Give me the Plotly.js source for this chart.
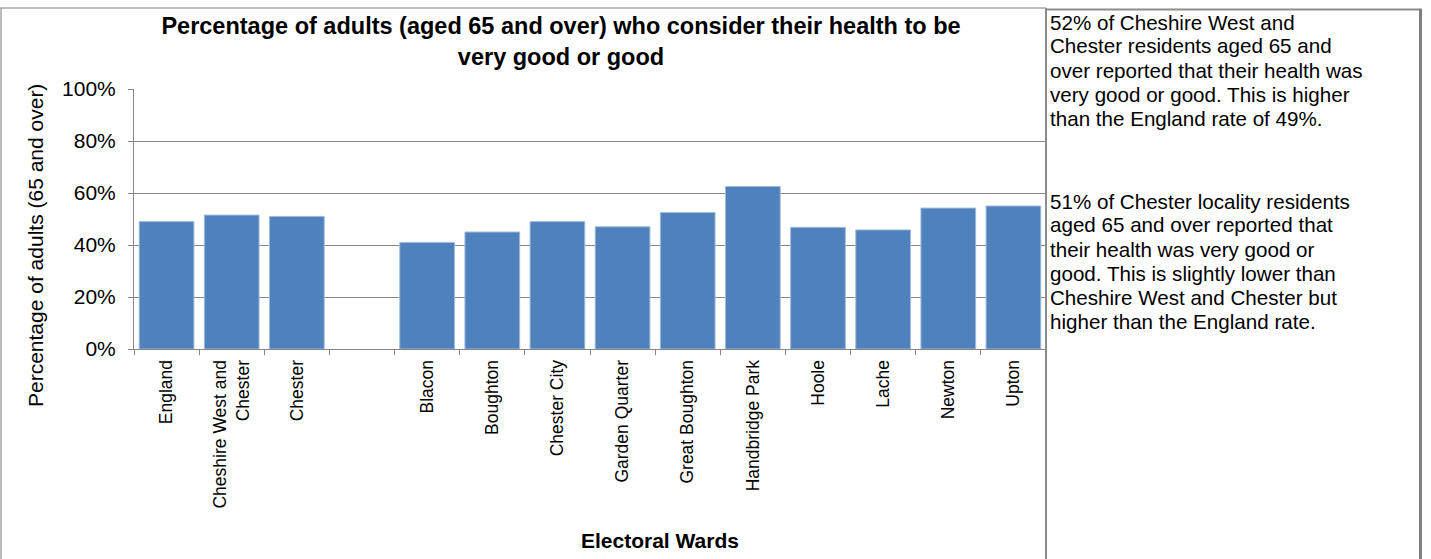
<!DOCTYPE html>
<html>
<head>
<meta charset="utf-8">
<script src="https://cdn.plot.ly/plotly-3.0.1.min.js"></script>
<style>
html,body{margin:0;padding:0;background:#fff;}
#chart{width:1431px;height:559px;}
</style>
</head>
<body>
<div id="chart"></div>
<script>
// ---- data ----
const categories = ['England', 'Cheshire West and<br>Chester', 'Chester', ' ', 'Blacon', 'Boughton', 'Chester City',
  'Garden Quarter', 'Great Boughton', 'Handbridge Park', 'Hoole', 'Lache', 'Newton', 'Upton'];
const values = [0.49, 0.515, 0.51, null, 0.41, 0.45, 0.49, 0.47, 0.525, 0.625, 0.468, 0.458, 0.542, 0.55];
const yTickValues = [0, 0.2, 0.4, 0.6, 0.8, 1.0];
const chartTitle = 'Percentage of adults (aged 65 and over) who consider their health to be<br>very good or good';
const yTitle = 'Percentage of adults (65 and over)';
const xTitle = 'Electoral Wards';
const panelParagraph1 = ['52% of Cheshire West and', 'Chester residents aged 65 and',
  'over reported that their health was', 'very good or good. This is higher', 'than the England rate of 49%.'];
const panelParagraph2 = ['51% of Chester locality residents', 'aged 65 and over reported that',
  'their health was very good or', 'good. This is slightly lower than', 'Cheshire West and Chester but',
  'higher than the England rate.'];

// ---- layout geometry (pixels) ----
const W = 1431, H = 559;
const PL = 134, PR = 1046, PT = 89, PB = 349;
const px2x = p => (p - PL) / (PR - PL);
const px2y = p => (PB - p) / (PB - PT);
const FONT = 'Liberation Sans, Arial, sans-serif';
const GRID = '#868686';

const shapes = [
  // chart outer frame
  {type: 'line', xref: 'paper', yref: 'paper', x0: px2x(1), x1: px2x(1), y0: px2y(8), y1: px2y(565), line: {color: '#a6a6a6', width: 1.5}},
  {type: 'line', xref: 'paper', yref: 'paper', x0: px2x(0), x1: px2x(1046), y0: px2y(8), y1: px2y(8), line: {color: '#a6a6a6', width: 1.5}},
  // text panel
  {type: 'line', xref: 'paper', yref: 'paper', x0: px2x(1046), x1: px2x(1046), y0: px2y(8), y1: px2y(565), line: {color: '#8c8c8c', width: 2}},
  {type: 'line', xref: 'paper', yref: 'paper', x0: px2x(1046), x1: px2x(1422), y0: px2y(9.5), y1: px2y(9.5), line: {color: '#8c8c8c', width: 2}},
  {type: 'line', xref: 'paper', yref: 'paper', x0: px2x(1420.5), x1: px2x(1420.5), y0: px2y(9), y1: px2y(565), line: {color: '#7f7f7f', width: 3}}
];

const annotations = [
  {text: yTitle, xref: 'paper', yref: 'paper', x: px2x(35), y: px2y(246), textangle: -90, showarrow: false,
   xanchor: 'center', yanchor: 'middle', font: {family: FONT, size: 21, color: '#000'}},
  {text: '<b>' + xTitle + '</b>', xref: 'paper', yref: 'paper', x: px2x(660), y: px2y(540), showarrow: false,
   xanchor: 'center', yanchor: 'middle', font: {family: FONT, size: 21, color: '#000'}}
];
const LINE = 24;
panelParagraph1.forEach((t, i) => annotations.push({text: t, xref: 'paper', yref: 'paper', x: px2x(1049), y: px2y(22 + i * LINE),
  showarrow: false, xanchor: 'left', yanchor: 'middle', borderpad: 0, font: {family: FONT, size: 20.6, color: '#000'}}));
panelParagraph2.forEach((t, i) => annotations.push({text: t, xref: 'paper', yref: 'paper', x: px2x(1049), y: px2y(201 + i * LINE),
  showarrow: false, xanchor: 'left', yanchor: 'middle', borderpad: 0, font: {family: FONT, size: 20.6, color: '#000'}}));

const trace = {
  type: 'bar', x: categories, y: values,
  marker: {color: '#4f81bd', line: {color: '#9fbbdd', width: 1}},
  hoverinfo: 'x+y'
};

const layout = {
  width: W, height: H,
  margin: {l: PL, r: W - PR, t: PT, b: H - PB, pad: 0},
  paper_bgcolor: '#fff', plot_bgcolor: '#fff',
  showlegend: false,
  bargap: 0.16,
  title: {text: '<b>' + chartTitle + '</b>', xref: 'paper', x: px2x(561), xanchor: 'center',
    yref: 'container', y: 1 - 34 / H, yanchor: 'top', font: {family: FONT, size: 23.5, color: '#000'}},
  xaxis: {type: 'category', categoryorder: 'array', categoryarray: categories, tickson: 'boundaries',
    ticks: 'outside', ticklen: 5, tickcolor: GRID, tickwidth: 1, showline: true, linecolor: GRID, linewidth: 1,
    tickangle: -90, tickfont: {family: FONT, size: 17.5, color: '#000'}, showgrid: false, fixedrange: true, ticklabelstandoff: 3},
  yaxis: {range: [0, 1], tickvals: yTickValues, tickformat: '.0%', showline: true, linecolor: GRID, linewidth: 1,
    ticks: 'outside', ticklen: 5, tickcolor: GRID, showgrid: true, gridcolor: GRID, gridwidth: 1, zeroline: false,
    tickfont: {family: FONT, size: 21, color: '#000'}, fixedrange: true, ticklabelstandoff: 8},
  shapes: shapes,
  annotations: annotations
};

Plotly.newPlot('chart', [trace], layout, {staticPlot: true, displayModeBar: false});
</script>
</body>
</html>
